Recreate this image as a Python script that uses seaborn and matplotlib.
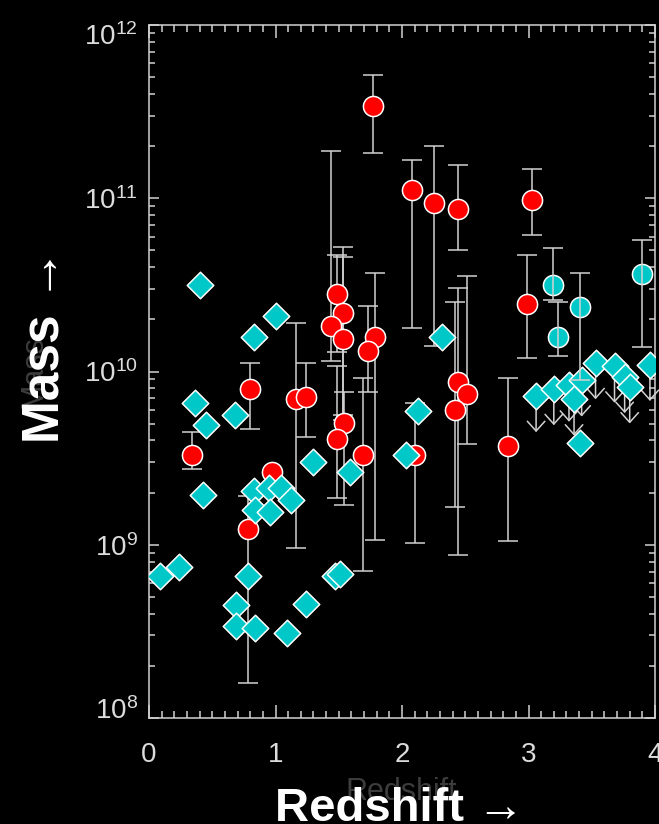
import numpy as np
import pandas as pd
import matplotlib
matplotlib.use("Agg")
import matplotlib.pyplot as plt
import matplotlib.transforms as mtrans
from matplotlib.ticker import MultipleLocator, LogLocator, NullFormatter
import seaborn as sns

# ---- data (redshift, log10 mass) ----
red_z = [0.34, 0.80, 0.78, 0.97, 1.16, 1.24, 1.49, 1.53, 1.44, 1.53, 1.54, 1.49, 1.69,
         1.79, 1.73, 1.77, 2.08, 2.25, 2.44, 2.44, 2.51, 2.42, 2.10, 2.84, 2.99, 3.03]
red_logm = [9.52, 9.90, 9.09, 9.42, 9.84, 9.85, 10.45, 10.34, 10.26, 10.19, 9.70, 9.61, 9.52,
            10.20, 10.12, 11.53, 11.05, 10.97, 10.94, 9.94, 9.87, 9.78, 9.52, 9.57, 10.39, 10.99]
red_hi = [9.65, 10.05, 9.28, np.nan, 10.28, 10.05, 10.67, 10.72, 11.27, 10.66, 9.88, 10.03, 9.96,
          10.57, 10.38, 11.71, 11.22, 11.30, 11.19, 10.48, 10.55, 10.40, 9.82, 9.96, 10.67, 11.17]
red_lo = [9.44, 9.67, 8.20, np.nan, 8.98, 9.62, 10.11, 9.72, 10.06, 9.75, 9.23, 9.27, 8.85,
          9.03, 9.88, 11.26, 10.25, 10.15, 10.70, 8.94, 9.58, 9.22, 9.01, 9.02, 10.08, 10.79]

cyc_z = [3.19, 3.23, 3.41, 3.90]
cyc_logm = [10.50, 10.20, 10.37, 10.56]
cyc_hi = [10.71, 10.40, 10.57, 10.76]
cyc_lo = [10.41, 10.09, 9.95, 10.14]

dia_z = [0.40, 0.36, 0.45, 0.43, 0.09, 0.24, 0.83, 1.00, 0.68, 0.83, 0.95, 1.04, 1.12, 0.84,
         0.96, 0.78, 0.69, 0.69, 0.84, 1.09, 1.24, 1.30, 1.59, 1.47, 1.51, 2.03, 2.13, 2.32, 3.41]
dia_logm = [10.50, 9.82, 9.69, 9.29, 8.82, 8.87, 10.20, 10.32, 9.75, 9.31, 9.33, 9.33, 9.26, 9.20,
            9.19, 8.82, 8.65, 8.53, 8.52, 8.49, 8.66, 9.48, 9.42, 8.82, 8.83, 9.52, 9.77, 10.20, 9.59]

lim_z = [3.06, 3.20, 3.32, 3.42, 3.36, 3.53, 3.68, 3.76, 3.80, 3.96]
lim_logm = [9.86, 9.90, 9.92, 9.95, 9.84, 10.05, 10.03, 9.97, 9.91, 10.04]
lim_drop = 0.21  # arrow length in dex

x_ticks = [0, 1, 2, 3, 4]

# ---- style ----
sns.set_style("dark", {"axes.facecolor": "black", "figure.facecolor": "black"})
plt.rcParams["font.family"] = ["Liberation Sans", "DejaVu Sans"]
plt.rcParams["mathtext.fontset"] = "custom"
plt.rcParams["mathtext.rm"] = "Liberation Sans"
plt.rcParams["mathtext.default"] = "regular"

RED = "#ff0000"
CYAN = "#00c8c8"
BAR = "#d2d2d2"
TXT = "#dcdcdc"

fig = plt.figure(figsize=(6.59, 8.24), dpi=100)
fig.patch.set_facecolor("black")
ax = fig.add_axes([149 / 659, 1 - 718 / 824, (655 - 149) / 659, (718 - 25) / 824])
ax.set_facecolor("black")

def to_df(z, lm, hi=None, lo=None):
    d = pd.DataFrame({"z": z, "m": np.power(10.0, lm)})
    if hi is not None:
        d["hi"] = np.power(10.0, hi)
        d["lo"] = np.power(10.0, lo)
    return d

red = to_df(red_z, red_logm, red_hi, red_lo)
cyc = to_df(cyc_z, cyc_logm, cyc_hi, cyc_lo)
dia = to_df(dia_z, dia_logm)
lim = to_df(lim_z, lim_logm)

# error bars for red points
rb = red.dropna()
ax.errorbar(rb["z"], rb["m"], yerr=[rb["m"] - rb["lo"], rb["hi"] - rb["m"]], fmt="none",
            ecolor=BAR, elinewidth=1.1, capsize=7.5, capthick=1.1, zorder=2)

sns.scatterplot(data=red, x="z", y="m", ax=ax, marker="o", s=14.5 ** 2, color=RED,
                edgecolor="white", linewidth=1.1, zorder=3, legend=False)

# upper-limit arrows
for z, m in zip(lim["z"], lim["m"]):
    ax.annotate("", xy=(z, m * 10 ** (-lim_drop)), xytext=(z, m),
                arrowprops=dict(arrowstyle="->,head_length=0.5,head_width=0.45", color=BAR,
                                lw=1.1, shrinkA=0, shrinkB=0, mutation_scale=14),
                zorder=4)

sns.scatterplot(data=dia, x="z", y="m", ax=ax, marker="D", s=13.5 ** 2, color=CYAN,
                edgecolor="white", linewidth=1.1, zorder=5, legend=False)
sns.scatterplot(data=lim, x="z", y="m", ax=ax, marker="D", s=13.5 ** 2, color=CYAN,
                edgecolor="white", linewidth=1.1, zorder=5, legend=False)

sns.scatterplot(data=cyc, x="z", y="m", ax=ax, marker="o", s=14.5 ** 2, color=CYAN,
                edgecolor="white", linewidth=1.1, zorder=5, legend=False)
ax.errorbar(cyc["z"], cyc["m"], yerr=[cyc["m"] - cyc["lo"], cyc["hi"] - cyc["m"]], fmt="none",
            ecolor=BAR, elinewidth=1.1, capsize=7.5, capthick=1.1, zorder=6)

# ---- axes ----
ax.set_yscale("log")
ax.set_xlim(0, 4)
ax.set_ylim(1e8, 1e12)
ax.set_xticks(x_ticks)
ax.xaxis.set_minor_locator(MultipleLocator(0.1))
ax.yaxis.set_major_locator(LogLocator(base=10, numticks=10))
ax.yaxis.set_minor_locator(LogLocator(base=10, subs=np.arange(2, 10), numticks=20))
ax.yaxis.set_minor_formatter(NullFormatter())
ax.set_xlabel("")
ax.set_ylabel("")
ax.grid(False)

for sp in ax.spines.values():
    sp.set_visible(True)
    sp.set_color(BAR)
    sp.set_linewidth(1.1)

ax.tick_params(axis="x", which="major", direction="in", length=9.5, width=1.1, color=BAR,
               top=True, bottom=True, labelsize=20, labelcolor=TXT, pad=17)
ax.tick_params(axis="x", which="minor", direction="in", length=5, width=1.1, color=BAR,
               top=True, bottom=True)
ax.tick_params(axis="y", which="major", direction="in", length=7, width=1.1, color=BAR,
               left=True, right=True, labelsize=20, labelcolor=TXT, pad=8)
ax.tick_params(axis="y", which="minor", direction="in", length=4, width=1.1, color=BAR,
               left=True, right=True)

# faint original labels
fig.text(401 / 659, 1 - 800 / 824, "Redshift", color="#3c3c3c", fontsize=22,
         ha="center", va="baseline", zorder=1)
fig.text(33 / 659, 1 - 372 / 824, "Mass", color="#3c3c3c", fontsize=22, rotation=90,
         ha="center", va="center", zorder=1)

# bold labels
fig.text(400 / 659, 1 - 821 / 824, "Redshift \u2192", color="white", fontsize=34,
         fontweight="bold", ha="center", va="baseline", zorder=5)
fig.text(45 / 659, 1 - 346 / 824, "Mass \u2192", color="white", fontsize=37,
         fontweight="bold", rotation=90, ha="center", va="center", zorder=5)

# the end labels of the y axis sit inside the axis range, as in the reference
fig.canvas.draw()
for t in ax.yaxis.get_major_ticks():
    loc = t.get_loc()
    if np.isclose(loc, 1e12):
        dy = -9 / 100
    elif np.isclose(loc, 1e8):
        dy = 10 / 100
    else:
        continue
    t.label1.set_transform(t.label1.get_transform()
                           + mtrans.ScaledTranslation(0, dy, fig.dpi_scale_trans))

fig.savefig("out.png", dpi=100, facecolor="black")
